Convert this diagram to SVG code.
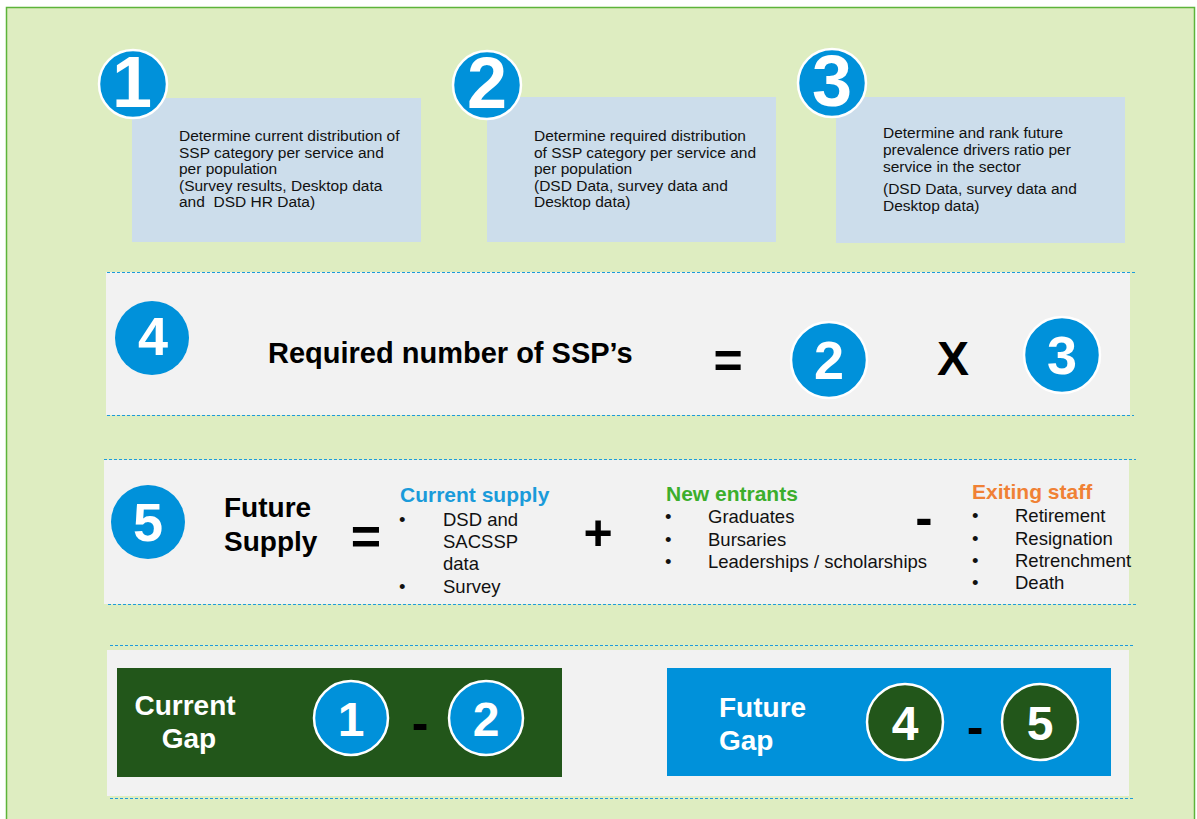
<svg xmlns="http://www.w3.org/2000/svg" width="1197" height="819" viewBox="0 0 1197 819">
  <style>
    .body { font-family: "Liberation Sans", Arial, sans-serif; font-size: 15.5px; fill: #111; }
    .item { font-family: "Liberation Sans", Arial, sans-serif; font-size: 18.5px; fill: #111; }
    .head { font-family: "Liberation Sans", Arial, sans-serif; font-size: 21px; font-weight: bold; }
    .big { font-family: "Liberation Sans", Arial, sans-serif; font-weight: bold; fill: #000; }
    .digit { font-family: "Liberation Sans", Arial, sans-serif; font-weight: bold; fill: #fff; text-anchor: middle; }
    .badge { fill: #0091DA; }
    .ring { stroke: #fff; stroke-width: 2.5; }
    .step { fill: #CCDDEB; }
    .band { fill: #F2F2F2; }
    .dash { stroke: #1E9BDB; stroke-width: 1; stroke-dasharray: 3 2; fill: none; }
    .white { fill: #fff; font-family: "Liberation Sans", Arial, sans-serif; font-weight: bold; font-size: 28px; }
  </style>

  <!-- page -->
  <rect x="0" y="0" width="1197" height="819" fill="#fff"/>
  <rect x="6.5" y="7.5" width="1188" height="820" fill="#DEEDC1" stroke="#5DB43A" stroke-width="1.5"/>

  <!-- step 1 -->
  <g id="step1">
    <rect class="step" x="132" y="98" width="289" height="144"/>
    <circle class="badge ring" cx="133" cy="84" r="34"/>
    <text class="digit" x="132" y="107" font-size="72">1</text>
    <text class="body" x="179" y="141">Determine current distribution of</text>
    <text class="body" x="179" y="158">SSP category per service and</text>
    <text class="body" x="179" y="174">per population</text>
    <text class="body" x="179" y="191">(Survey results, Desktop data</text>
    <text class="body" x="179" y="207">and&#160; DSD HR Data)</text>
  </g>

  <!-- step 2 -->
  <g id="step2">
    <rect class="step" x="487" y="97" width="289" height="145"/>
    <circle class="badge ring" cx="487" cy="85" r="34"/>
    <text class="digit" x="487" y="108" font-size="72">2</text>
    <text class="body" x="534" y="141">Determine required distribution</text>
    <text class="body" x="534" y="158">of SSP category per service and</text>
    <text class="body" x="534" y="174">per population</text>
    <text class="body" x="534" y="191">(DSD Data, survey data and</text>
    <text class="body" x="534" y="207">Desktop data)</text>
  </g>

  <!-- step 3 -->
  <g id="step3">
    <rect class="step" x="836" y="97" width="289" height="146"/>
    <circle class="badge ring" cx="832" cy="83" r="34"/>
    <text class="digit" x="832" y="106" font-size="72">3</text>
    <text class="body" x="883" y="138">Determine and rank future</text>
    <text class="body" x="883" y="155">prevalence drivers ratio per</text>
    <text class="body" x="883" y="172">service in the sector</text>
    <text class="body" x="883" y="194">(DSD Data, survey data and</text>
    <text class="body" x="883" y="211">Desktop data)</text>
  </g>

  <!-- step 4: required number -->
  <g id="step4">
    <rect class="band" x="106" y="272" width="1024" height="143"/>
    <line class="dash" x1="107" y1="272.5" x2="1136" y2="272.5"/>
    <line class="dash" x1="107" y1="415.5" x2="1134" y2="415.5"/>
    <circle class="badge" cx="152" cy="338" r="37"/>
    <text class="digit" x="153" y="355" font-size="54">4</text>
    <text class="big" x="268" y="363" font-size="29">Required number of SSP’s</text>
    <text class="big" x="728" y="378" font-size="50" text-anchor="middle">=</text>
    <circle class="badge ring" cx="829" cy="360" r="38"/>
    <text class="digit" x="829" y="379" font-size="54">2</text>
    <text class="big" x="953" y="375" font-size="48" text-anchor="middle">X</text>
    <circle class="badge ring" cx="1062" cy="355" r="38"/>
    <text class="digit" x="1062" y="374" font-size="54">3</text>
  </g>

  <!-- step 5: future supply -->
  <g id="step5">
    <rect class="band" x="104" y="460" width="1025" height="144"/>
    <line class="dash" x1="104" y1="459.5" x2="1136" y2="459.5"/>
    <line class="dash" x1="108" y1="604.5" x2="1136" y2="604.5"/>
    <circle class="badge" cx="148" cy="522" r="37"/>
    <text class="digit" x="148" y="541" font-size="54">5</text>
    <text class="big" x="224" y="517" font-size="28">Future</text>
    <text class="big" x="224" y="551" font-size="28">Supply</text>
    <text class="big" x="366" y="554" font-size="52" text-anchor="middle">=</text>

    <text class="head" x="400" y="502" fill="#1A9BDA">Current supply</text>
    <text class="item" x="399" y="526">•</text>
    <text class="item" x="443" y="526">DSD and</text>
    <text class="item" x="443" y="548">SACSSP</text>
    <text class="item" x="443" y="570">data</text>
    <text class="item" x="399" y="593">•</text>
    <text class="item" x="443" y="593">Survey</text>

    <text class="big" x="598" y="550" font-size="50" text-anchor="middle">+</text>

    <text class="head" x="666" y="501" fill="#3CAE2C">New entrants</text>
    <text class="item" x="665" y="523">•</text>
    <text class="item" x="708" y="523">Graduates</text>
    <text class="item" x="665" y="546">•</text>
    <text class="item" x="708" y="546">Bursaries</text>
    <text class="item" x="665" y="568">•</text>
    <text class="item" x="708" y="568">Leaderships / scholarships</text>

    <text class="big" x="924" y="535" font-size="52" text-anchor="middle">-</text>

    <text class="head" x="972" y="499" fill="#F08135">Exiting staff</text>
    <text class="item" x="972" y="522">•</text>
    <text class="item" x="1015" y="522">Retirement</text>
    <text class="item" x="972" y="545">•</text>
    <text class="item" x="1015" y="545">Resignation</text>
    <text class="item" x="972" y="567">•</text>
    <text class="item" x="1015" y="567">Retrenchment</text>
    <text class="item" x="972" y="589">•</text>
    <text class="item" x="1015" y="589">Death</text>
  </g>

  <!-- gaps band -->
  <g id="gaps">
    <rect class="band" x="107" y="650" width="1022" height="146"/>
    <line class="dash" x1="110" y1="645.5" x2="1134" y2="645.5"/>
    <line class="dash" x1="110" y1="798.5" x2="1134" y2="798.5"/>
  </g>

  <g id="current-gap">
    <rect x="117" y="668" width="445" height="109" fill="#22561A"/>
    <text class="white" x="185" y="715" text-anchor="middle">Current</text>
    <text class="white" x="189" y="748" text-anchor="middle">Gap</text>
    <circle class="badge ring" cx="351" cy="718" r="37"/>
    <text class="digit" x="351" y="736" font-size="48">1</text>
    <text class="big" x="420" y="740" font-size="50" text-anchor="middle">-</text>
    <circle class="badge ring" cx="486" cy="718" r="37"/>
    <text class="digit" x="486" y="736" font-size="48">2</text>
  </g>

  <g id="future-gap">
    <rect x="667" y="668" width="444" height="108" fill="#0091DA"/>
    <text class="white" x="719" y="717">Future</text>
    <text class="white" x="719" y="750">Gap</text>
    <circle class="ring" fill="#22561A" cx="905" cy="722" r="38"/>
    <text class="digit" x="905" y="740" font-size="48">4</text>
    <text class="big" x="975" y="744" font-size="50" text-anchor="middle">-</text>
    <circle class="ring" fill="#22561A" cx="1040" cy="722" r="38"/>
    <text class="digit" x="1040" y="740" font-size="48">5</text>
  </g>
</svg>
